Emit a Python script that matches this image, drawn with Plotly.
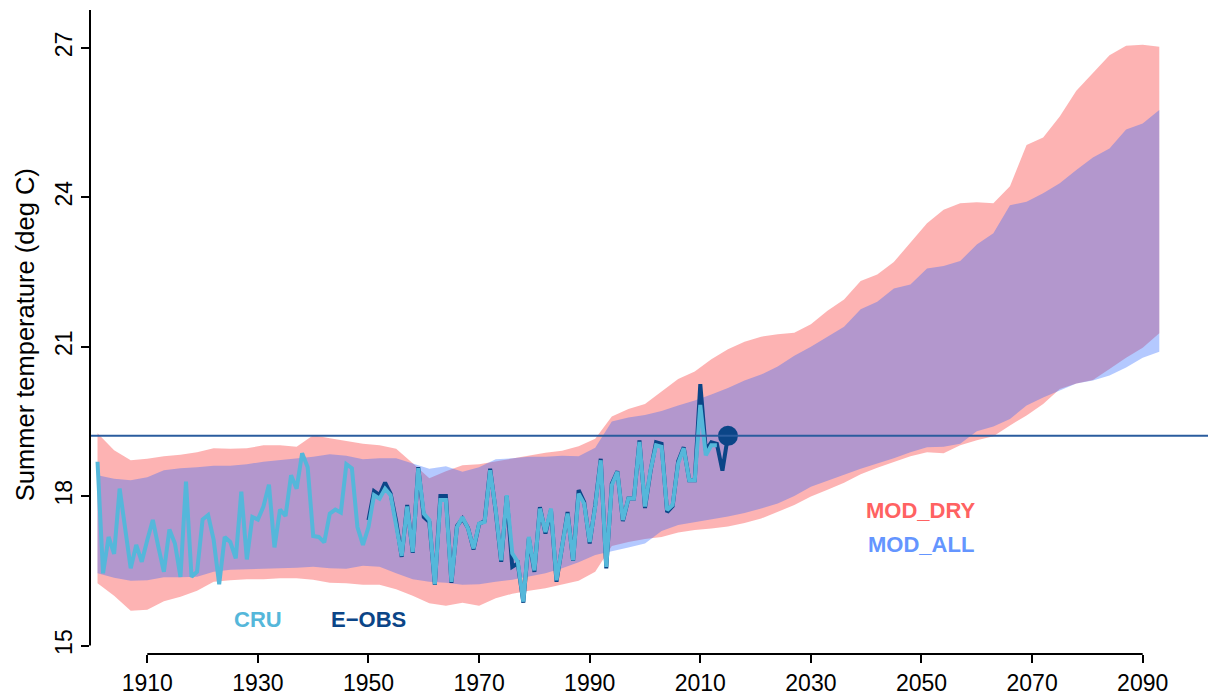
import plotly.graph_objects as go

# ---------------- data ----------------
band_years = list(range(1901, 2094, 3))

dry_hi = [19.26, 18.92, 18.72, 18.75, 18.80, 18.83, 18.88, 18.96, 18.95, 18.96,
          19.02, 19.02, 18.99, 19.22, 19.16, 19.10, 19.05, 19.02, 18.95, 18.66,
          18.36, 18.50, 18.62, 18.64, 18.70, 18.76, 18.81, 18.87, 18.91, 19.00,
          19.15, 19.60, 19.75, 19.85, 20.10, 20.35, 20.50, 20.75, 20.95, 21.10,
          21.20, 21.25, 21.28, 21.45, 21.72, 21.95, 22.32, 22.45, 22.70, 23.10,
          23.48, 23.75, 23.88, 23.90, 23.88, 24.22, 25.05, 25.20, 25.62, 26.14,
          26.50, 26.85, 27.04, 27.06, 27.02]

all_hi = [18.42, 18.35, 18.32, 18.38, 18.52, 18.56, 18.58, 18.61, 18.61, 18.64,
          18.69, 18.72, 18.75, 18.79, 18.84, 18.81, 18.74, 18.76, 18.76, 18.66,
          18.55, 18.60, 18.49, 18.58, 18.74, 18.76, 18.79, 18.79, 18.81, 18.80,
          18.97, 19.50, 19.58, 19.63, 19.71, 19.82, 19.92, 20.04, 20.17, 20.32,
          20.44, 20.60, 20.82, 21.00, 21.20, 21.40, 21.75, 21.90, 22.17, 22.25,
          22.57, 22.62, 22.72, 23.05, 23.28, 23.84, 23.91, 24.08, 24.28, 24.55,
          24.80, 24.98, 25.36, 25.48, 25.75]

all_lo = [16.45, 16.36, 16.30, 16.31, 16.37, 16.37, 16.38, 16.48, 16.52, 16.53,
          16.53, 16.55, 16.56, 16.58, 16.55, 16.54, 16.60, 16.58, 16.45, 16.33,
          16.28, 16.26, 16.22, 16.23, 16.28, 16.32, 16.38, 16.45, 16.55, 16.67,
          16.82, 16.90, 16.97, 17.05, 17.30, 17.42, 17.48, 17.53, 17.59, 17.66,
          17.75, 17.85, 18.00, 18.19, 18.31, 18.43, 18.55, 18.66, 18.76, 18.88,
          18.98, 18.99, 19.05, 19.30, 19.40, 19.55, 19.82, 19.98, 20.12, 20.26,
          20.32, 20.42, 20.58, 20.78, 20.90]

dry_lo = [16.25, 16.00, 15.70, 15.72, 15.89, 15.98, 16.10, 16.28, 16.31, 16.33,
          16.33, 16.35, 16.35, 16.32, 16.26, 16.25, 16.22, 16.22, 16.13, 16.00,
          15.85, 15.80, 15.86, 15.80, 15.95, 16.04, 16.10, 16.15, 16.22, 16.30,
          16.48, 17.00, 17.08, 17.14, 17.18, 17.27, 17.32, 17.35, 17.39, 17.46,
          17.55, 17.68, 17.82, 17.99, 18.13, 18.27, 18.44, 18.57, 18.69, 18.80,
          18.88, 18.86, 19.02, 19.12, 19.20, 19.42, 19.62, 19.85, 20.15, 20.26,
          20.33, 20.55, 20.78, 20.98, 21.27]

cru_years = list(range(1901, 2014))
cru = [18.69, 16.45, 17.18, 16.84, 18.15, 17.32, 16.55, 17.02, 16.68, 17.12,
       17.52, 16.98, 16.48, 17.33, 17.05, 16.38, 18.29, 16.38, 16.48, 17.53,
       17.62, 17.12, 16.23, 17.18, 17.08, 16.75, 18.09, 16.73, 17.58, 17.53,
       17.79, 18.23, 16.97, 17.73, 17.60, 18.42, 18.15, 18.86, 18.58, 17.20,
       17.18, 17.07, 17.65, 17.73, 17.67, 18.64, 18.56, 17.38, 17.02, 17.38,
       18.02, 17.95, 18.15, 18.02, 17.45, 16.80, 17.79, 16.88, 18.56, 17.65,
       17.52, 16.23, 17.92, 17.92, 16.28, 17.38, 17.58, 17.35, 16.95, 17.45,
       17.48, 18.52, 17.72, 16.71, 18.02, 16.85, 16.68, 15.88, 17.18, 16.51,
       17.75, 17.28, 17.75, 16.31, 16.98, 17.65, 16.71, 18.05, 17.85, 17.08,
       17.79, 18.72, 16.58, 18.22, 18.49, 17.52, 17.95, 17.95, 19.09, 17.79,
       18.52, 19.02, 18.99, 17.72, 17.82, 18.66, 18.96, 18.32, 18.32, 19.83,
       18.82, 19.02, 19.02]

eobs_years = list(range(1950, 2016))
eobs = [17.52, 18.10, 18.02, 18.27, 18.05, 17.50, 16.78, 17.82, 16.86, 18.58,
        17.58, 17.48, 16.22, 18.00, 18.00, 16.26, 17.40, 17.55, 17.36, 16.93,
        17.44, 17.50, 18.55, 17.70, 16.68, 18.00, 16.58, 16.65, 15.86, 17.15,
        16.48, 17.78, 17.25, 17.72, 16.28, 16.95, 17.68, 16.70, 18.12, 17.88,
        17.05, 17.82, 18.75, 16.55, 18.25, 18.50, 17.50, 17.95, 17.95, 19.12,
        17.76, 18.50, 19.08, 19.05, 17.68, 17.80, 18.70, 18.98, 18.32, 18.32,
        20.25, 18.92, 19.08, 19.05, 18.51, 19.21]

x_ticks = [1910, 1930, 1950, 1970, 1990, 2010, 2030, 2050, 2070, 2090]
y_ticks = [15, 18, 21, 24, 27]

# ---------------- styles ----------------
FONT = "Liberation Sans, Arial, Helvetica, sans-serif"
C_DRY = "#FF6262"
C_ALL = "#6495FF"
C_CRU = "#55B7DA"
C_EOBS = "#0B4587"

fig = go.Figure()

fig.add_trace(go.Scatter(
    x=band_years + band_years[::-1], y=dry_hi + dry_lo[::-1],
    fill="toself", fillcolor="rgba(252,104,104,0.5)", mode="lines",
    line=dict(width=0), hoverinfo="skip", showlegend=False))
fig.add_trace(go.Scatter(
    x=band_years + band_years[::-1], y=all_hi + all_lo[::-1],
    fill="toself", fillcolor="rgba(40,100,255,0.35)", mode="lines",
    line=dict(width=0), hoverinfo="skip", showlegend=False))

thr = eobs[-1]
fig.add_hline(y=thr, line=dict(color="#2A5C9E", width=2))

fig.add_trace(go.Scatter(x=eobs_years, y=eobs, mode="lines",
                         line=dict(color=C_EOBS, width=4), showlegend=False))
fig.add_trace(go.Scatter(x=cru_years, y=cru, mode="lines",
                         line=dict(color=C_CRU, width=4), showlegend=False))
fig.add_trace(go.Scatter(x=[eobs_years[-1]], y=[thr], mode="markers",
                         marker=dict(color=C_EOBS, size=20), showlegend=False))

# axis lines spanning first to last tick (R style)
fig.add_shape(type="line", xref="x", yref="paper", x0=x_ticks[0], x1=x_ticks[-1],
              y0=0, y1=0, line=dict(color="black", width=2))
fig.add_shape(type="line", xref="paper", yref="y", x0=0, x1=0,
              y0=y_ticks[0], y1=27.76, line=dict(color="black", width=2))

lab_font = dict(family=FONT, size=22)
fig.add_annotation(x=1930, y=15.52, text="<b>CRU</b>", showarrow=False,
                   font=dict(lab_font, color=C_CRU))
fig.add_annotation(x=1950, y=15.52, text="<b>E\u2212OBS</b>", showarrow=False,
                   font=dict(lab_font, color=C_EOBS))
fig.add_annotation(x=2050, y=17.72, text="<b>MOD_DRY</b>", showarrow=False,
                   font=dict(lab_font, color=C_DRY))
fig.add_annotation(x=2050, y=17.02, text="<b>MOD_ALL</b>", showarrow=False,
                   font=dict(lab_font, color=C_ALL))

fig.add_annotation(xref="paper", yref="paper", x=0, y=0.495, xshift=-65,
                   xanchor="center", yanchor="middle",
                   text="Summer temperature (deg C)", textangle=-90,
                   showarrow=False, font=dict(family=FONT, size=25.5, color="black"))

fig.update_layout(
    width=1208, height=697,
    margin=dict(l=90, r=0, t=10, b=43),
    paper_bgcolor="white", plot_bgcolor="white",
    xaxis=dict(range=[1899.64, 2101.81], tickvals=x_ticks, ticks="outside",
               ticklen=8, tickwidth=2, tickcolor="black", showgrid=False,
               zeroline=False, showline=False,
               tickfont=dict(family=FONT, size=23, color="black")),
    yaxis=dict(range=[14.83, 27.76], tickvals=y_ticks, ticks="outside",
               ticklen=8, tickwidth=2, tickcolor="black", showgrid=False,
               zeroline=False, showline=False, tickangle=-90,
               tickfont=dict(family=FONT, size=23, color="black")),
)

fig.write_html("out.html")
